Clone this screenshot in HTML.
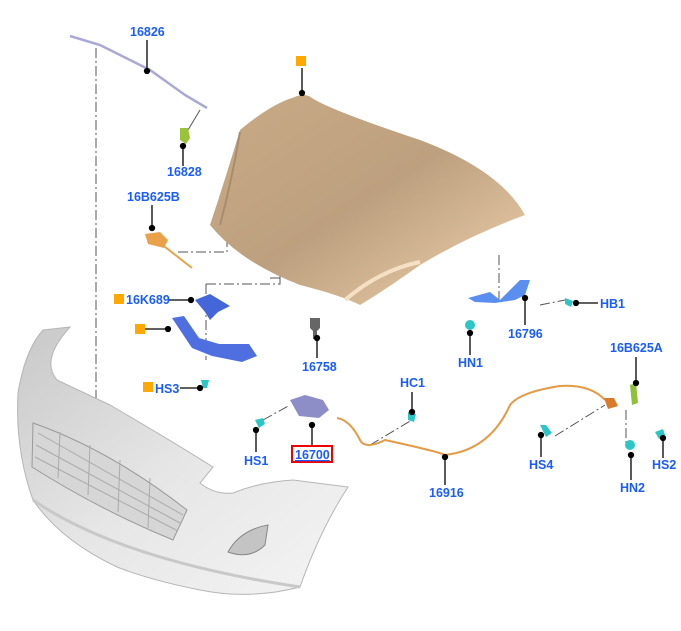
<!DOCTYPE html>
<html><head><meta charset="utf-8"><style>
body{margin:0;background:#fff}
svg{display:block}
text{font-family:"Liberation Sans",sans-serif;font-weight:bold;font-size:12.5px;fill:#1a5cff}
</style></head><body>
<svg width="681" height="631" viewBox="0 0 681 631" xmlns="http://www.w3.org/2000/svg">
<defs>
<linearGradient id="hood" x1="0" y1="0" x2="1" y2="1">
<stop offset="0" stop-color="#c9aa86"/><stop offset="0.5" stop-color="#bda07f"/><stop offset="1" stop-color="#f0d2ad"/></linearGradient>
<linearGradient id="bump" x1="0" y1="0" x2="1" y2="1">
<stop offset="0" stop-color="#c8c8c8"/><stop offset="0.5" stop-color="#e6e6e6"/><stop offset="1" stop-color="#f4f4f4"/></linearGradient>
</defs>
<g fill="none" stroke="#555" stroke-width="1" stroke-dasharray="10,3,2,3">
<path d="M96 48 V400"/>
<path d="M178 252 H227 V232"/>
<path d="M206 284 H280 V270"/>
<path d="M206 284 V360"/>
<path d="M270 278 H280"/>
<path d="M499 255 V300"/>
<path d="M370 445 L412 420"/>
<path d="M555 436 L605 405"/>
<path d="M263 420 L290 405"/>
<path d="M626 410 V445"/>
<path d="M540 305 L565 300"/>
</g>
<!-- hood -->
<path d="M292 98 Q305 92 312 98 Q330 110 420 140 Q500 170 525 215 Q470 235 420 265 Q385 290 360 305 Q340 295 300 285 Q240 262 210 225 Q225 180 240 130 Q270 105 292 98 Z" fill="url(#hood)"/>
<path d="M240 132 Q232 180 220 225" stroke="#a88c6c" fill="none" stroke-width="2"/>
<path d="M345 300 Q380 270 420 262" stroke="#f6e0c4" fill="none" stroke-width="4"/>
<!-- bumper -->
<path d="M43 330 L70 327 Q40 360 57 380 L110 405 Q170 440 213 467 L200 483 Q215 495 233 493 Q260 482 293 480 L348 487 Q320 530 300 587 Q250 600 200 590 Q150 580 117 567 Q60 540 33 500 Q15 450 18 393 Q25 350 43 330 Z" fill="url(#bump)" stroke="#b5b5b5"/>
<path d="M33 423 Q110 450 187 510 L173 540 Q100 510 32 467 Z" fill="#d6d6d6" stroke="#999"/>
<g stroke="#aaa" stroke-width="1">
<path d="M38 433 L183 515"/><path d="M36 445 L180 523"/><path d="M35 457 L178 531"/>
<path d="M60 432 L58 478"/><path d="M90 445 L88 495"/><path d="M120 460 L118 512"/><path d="M150 478 L148 528"/>
</g>
<path d="M228 552 Q240 530 268 525 L265 545 Q250 560 228 552 Z" fill="#c4c4c4" stroke="#888"/>
<path d="M33 500 Q120 560 300 587" stroke="#c8c8c8" fill="none" stroke-width="3"/>
<!-- wiper rail 16826 -->
<path d="M70 36 L100 45 L150 70 L185 95 L207 108" stroke="#a9a9d8" stroke-width="2.5" fill="none"/>
<path d="M200 110 L188 130" stroke="#555"/>
<path d="M180 128 l8 0 l2 10 l-4 6 l-6 -4z" fill="#9ac33a"/>
<!-- 16B625B -->
<path d="M145 234 l15 -2 l8 8 l-4 8 l-16 -4z" fill="#e9a24a"/>
<path d="M160 243 L192 268" stroke="#e9a24a" stroke-width="2"/>
<!-- 16K689 bracket -->
<path d="M195 300 l15 -6 l20 12 l-12 6 l-8 8 l-5 -8z" fill="#4466d8"/>
<path d="M172 318 l12 -2 l15 22 l20 6 l30 0 l8 12 l-15 6 l-30 -6 l-20 -8z" fill="#4f6fe0"/>
<path d="M201 380 l8 0 l-2 8 l-4 0z" fill="#2cc6c6"/>
<!-- 16758 -->
<path d="M310 318 h10 v10 l-3 3 v8 h-4 v-8 l-3 -3z" fill="#666"/>
<!-- hinge 16796 -->
<path d="M468 298 L490 292 L500 300 L510 290 L520 280 L530 280 L525 295 L515 300 L495 303 L475 302 Z" fill="#5a8ff0"/>
<path d="M465 325 a5 5 0 1 0 10 0 a5 5 0 1 0 -10 0" fill="#2cc6c6"/>
<path d="M565 298 l8 3 l-2 6 l-6 -3z" fill="#2cc6c6"/>
<!-- latch 16700 -->
<path d="M290 400 l15 -5 l18 5 l6 10 l-10 8 l-20 -2z" fill="#8d8dc8"/>
<path d="M255 420 l8 -2 l2 6 l-6 4z" fill="#2cc6c6"/>
<path d="M408 412 l8 2 l-2 8 l-6 -2z" fill="#2cc6c6"/>
<!-- cable 16916 -->
<path d="M337 418 Q350 420 360 440 Q365 450 385 440 Q440 452 445 455 Q490 450 510 405 Q520 392 560 386 Q590 384 605 400" stroke="#e69a45" stroke-width="2" fill="none"/>
<path d="M604 398 l10 0 l4 8 l-10 3z" fill="#d97b2a"/>
<path d="M630 385 l6 -2 l2 20 l-6 2z" fill="#8fc039"/>
<path d="M540 425 l6 0 l6 8 l-6 4z" fill="#2cc6c6"/>
<path d="M625 445 a5 5 0 1 0 10 0 a5 5 0 1 0 -10 0" fill="#2cc6c6"/>
<path d="M655 432 l8 -3 l2 6 l-6 4z" fill="#2cc6c6"/>
<!-- leaders -->
<g stroke="#000" stroke-width="1.3" fill="#000">
<path d="M147 40 V71"/><circle cx="147" cy="71" r="2.5"/>
<path d="M183 146 V166"/><circle cx="183" cy="146" r="2.5"/>
<path d="M302 68 V93"/><circle cx="302" cy="93" r="2.5"/>
<path d="M152 205 V228"/><circle cx="152" cy="228" r="2.5"/>
<path d="M168 300 H191"/><circle cx="191" cy="300" r="2.5"/>
<path d="M145 329 H168"/><circle cx="168" cy="329" r="2.5"/>
<path d="M180 388 H200"/><circle cx="200" cy="388" r="2.5"/>
<path d="M317 338 V358"/><circle cx="317" cy="338" r="2.5"/>
<path d="M525 298 V325"/><circle cx="525" cy="298" r="2.5"/>
<path d="M470 333 V355"/><circle cx="470" cy="333" r="2.5"/>
<path d="M576 303 H598"/><circle cx="576" cy="303" r="2.5"/>
<path d="M412 392 V412"/><circle cx="412" cy="412" r="2.5"/>
<path d="M256 430 V452"/><circle cx="256" cy="430" r="2.5"/>
<path d="M312 425 V446"/><circle cx="312" cy="425" r="2.5"/>
<path d="M445 457 V485"/><circle cx="445" cy="457" r="2.5"/>
<path d="M636 357 V383"/><circle cx="636" cy="383" r="2.5"/>
<path d="M541 435 V457"/><circle cx="541" cy="435" r="2.5"/>
<path d="M631 455 V480"/><circle cx="631" cy="455" r="2.5"/>
<path d="M663 438 V458"/><circle cx="663" cy="438" r="2.5"/>
</g>
<g fill="#ffa800">
<rect x="296" y="56" width="10" height="10"/>
<rect x="114" y="294" width="10" height="10"/>
<rect x="135" y="324" width="10" height="10"/>
<rect x="143" y="382" width="10" height="10"/>
</g>
<rect x="292" y="446" width="40" height="16" fill="none" stroke="#e00" stroke-width="2"/>
<text x="130" y="36">16826</text>
<text x="167" y="176">16828</text>
<text x="127" y="201">16B625B</text>
<text x="126" y="304">16K689</text>
<text x="155" y="393">HS3</text>
<text x="302" y="371">16758</text>
<text x="508" y="338">16796</text>
<text x="458" y="367">HN1</text>
<text x="600" y="308">HB1</text>
<text x="400" y="387">HC1</text>
<text x="610" y="352">16B625A</text>
<text x="244" y="465">HS1</text>
<text x="295" y="459" style="text-decoration:underline">16700</text>
<text x="429" y="497">16916</text>
<text x="529" y="469">HS4</text>
<text x="620" y="492">HN2</text>
<text x="652" y="469">HS2</text>
</svg>
</body></html>
